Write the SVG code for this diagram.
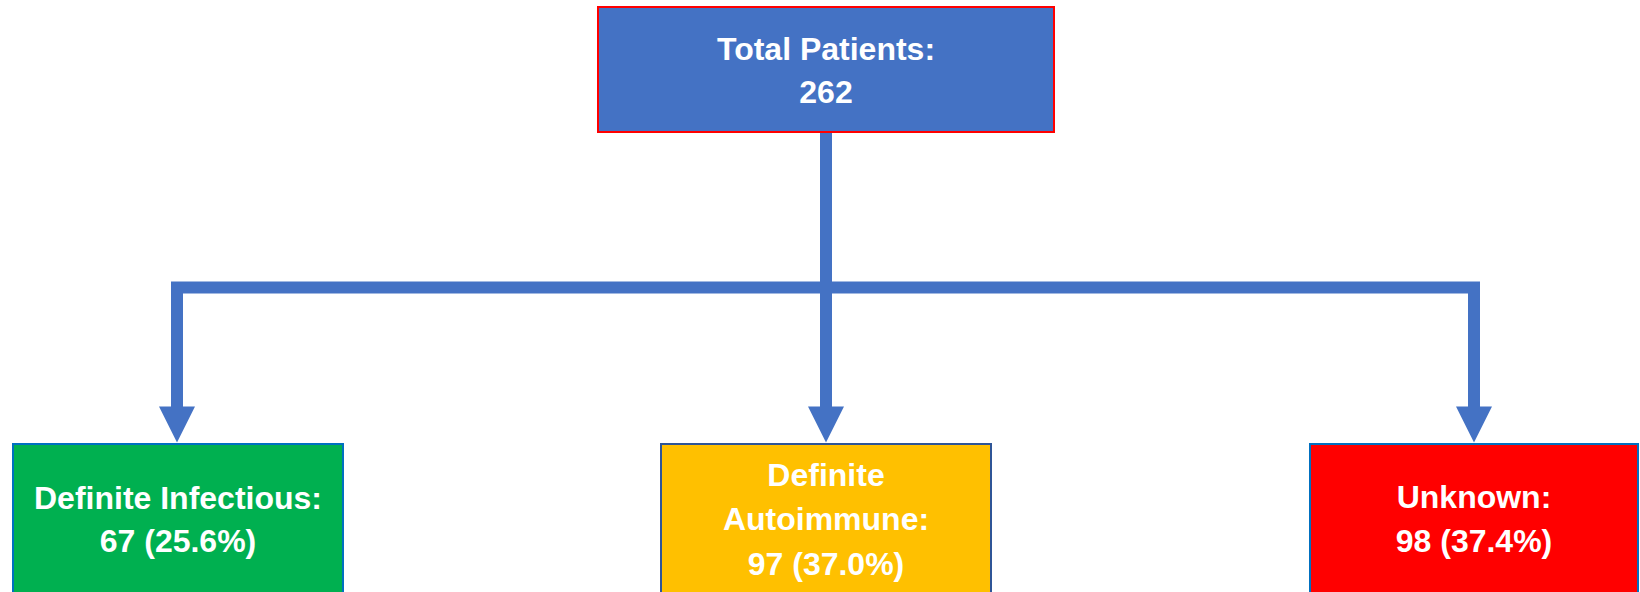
<svg xmlns="http://www.w3.org/2000/svg" width="1640" height="592" viewBox="0 0 1640 592">
<style>
.lbl{font-family:"Liberation Sans",Arial,sans-serif;font-weight:bold;font-size:32px;fill:#FFFFFF;text-anchor:middle}
.conn{fill:none;stroke:#4472C4;stroke-width:12;stroke-linejoin:miter}
.head{fill:#4472C4}
</style>
<rect width="1640" height="592" fill="#FFFFFF"/>
<g id="connectors">
<path class="conn" d="M826 132 V287.5"/>
<path class="conn" d="M177 408 V287.5 H1474 V408"/>
<path class="conn" d="M826 287.5 V408"/>
<polygon class="head" points="159,406.5 195,406.5 177,442.5"/>
<polygon class="head" points="808,406.5 844,406.5 826,442.5"/>
<polygon class="head" points="1456,406.5 1492,406.5 1474,442.5"/>
</g>
<g id="node-total">
<rect x="598" y="7" width="456" height="125" fill="#4472C4" stroke="#FF0000" stroke-width="2"/>
<text class="lbl" x="826" y="60">Total Patients:</text>
<text class="lbl" x="826" y="102.5">262</text>
</g>
<g id="node-infectious">
<rect x="13" y="444" width="330" height="160" fill="#00B050" stroke="#0070C0" stroke-width="2"/>
<text class="lbl" x="178" y="509">Definite Infectious:</text>
<text class="lbl" x="178" y="551.5">67 (25.6%)</text>
</g>
<g id="node-autoimmune">
<rect x="661" y="444" width="330" height="160" fill="#FFC000" stroke="#2F5597" stroke-width="2"/>
<text class="lbl" x="826" y="486">Definite</text>
<text class="lbl" x="826" y="530">Autoimmune:</text>
<text class="lbl" x="826" y="575">97 (37.0%)</text>
</g>
<g id="node-unknown">
<rect x="1310" y="444" width="328" height="160" fill="#FF0000" stroke="#0070C0" stroke-width="2"/>
<text class="lbl" x="1474" y="508">Unknown:</text>
<text class="lbl" x="1474" y="551.5">98 (37.4%)</text>
</g>
</svg>
